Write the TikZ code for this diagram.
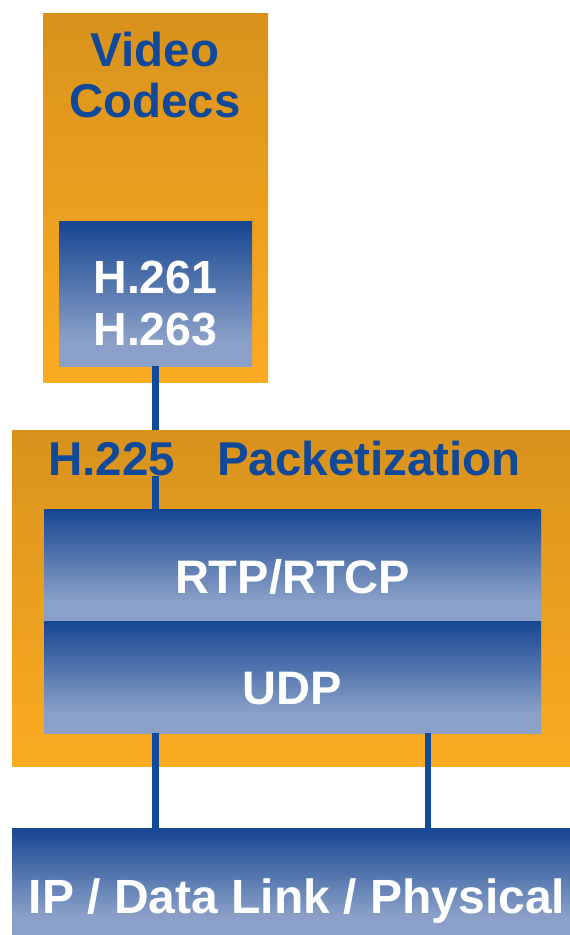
\documentclass[tikz,border=0pt]{standalone}
\usepackage{fontspec}
\setmainfont{Liberation Sans}
\definecolor{ambertop}{RGB}{216,146,28}
\definecolor{amberbot}{RGB}{251,171,33}
\definecolor{navytop}{RGB}{22,70,145}
\definecolor{navybot}{RGB}{138,160,200}
\definecolor{titleblue}{RGB}{16,72,154}
\definecolor{linkblue}{RGB}{16,74,155}
% blue layer fill: dark at the top, flat light band at the bottom
\pgfdeclareverticalshading{layerfade}{100bp}{%
  color(0bp)=(navybot); color(25bp)=(navybot); color(34bp)=(navybot);
  color(75bp)=(navytop); color(100bp)=(navytop)}
\begin{document}
\begin{tikzpicture}[x=1pt,y=-1pt,
  stackbox/.style={rectangle,inner sep=0pt,outer sep=0pt,anchor=north west,draw=none},
  orangebg/.style={stackbox,top color=ambertop,bottom color=amberbot},
  bluebg/.style={stackbox,shading=layerfade},
  titletext/.style={font=\bfseries\fontsize{47.5}{50}\selectfont,text=titleblue,anchor=base,inner sep=0pt},
  headtext/.style={font=\bfseries\fontsize{47.5}{50}\selectfont,text=titleblue,anchor=base west,inner sep=0pt},
  layertext/.style={font=\bfseries\fontsize{47}{50}\selectfont,text=white,anchor=base,inner sep=0pt},
  link/.style={draw=linkblue,line width=6.5pt}]
\useasboundingbox (0,0) rectangle (570,935);

% codec column
\node[orangebg,minimum width=225pt,minimum height=369pt] (codecs) at (43,13) {};
\node[bluebg,minimum width=193pt,minimum height=145pt] (h26x) at (59,221) {};

% packetization layer
\node[orangebg,minimum width=558pt,minimum height=336pt] (pack) at (12,430) {};
\node[bluebg,minimum width=497pt,minimum height=112pt] (rtp) at (44,509) {};
\node[bluebg,minimum width=497pt,minimum height=112pt] (udp) at (44,621) {};

% network layer
\node[bluebg,minimum width=558pt,minimum height=107pt] (ip) at (12,828) {};

% headings
\node[titletext] (video) at (155,66) {Video};
\node[titletext] (codec) at (155,117) {Codecs};
\node[headtext] (h225) at (48,475) {H.225};
\node[headtext] (packet) at (217,475) {Packetization};

% connectors
\coordinate (rtap) at (428,0);
\draw[link] (h26x.south) -- (h26x.south |- pack.north);
\draw[link] (h26x.south |- h225.south) -- (h26x.south |- rtp.north);
\draw[link] (h26x.south |- udp.south) -- (h26x.south |- ip.north);
\draw[link] (rtap |- udp.south) -- (rtap |- ip.north);

% layer labels
\node[layertext,font=\bfseries\fontsize{46.5}{50}\selectfont] (h261) at (155.5,293) {H.261};
\node[layertext,font=\bfseries\fontsize{46.5}{50}\selectfont] (h263) at (155.5,345) {H.263};
\node[layertext] (rtptext) at (292.5,593) {RTP/RTCP};
\node[layertext] (udptext) at (292.5,704) {UDP};
\node[layertext,font=\bfseries\fontsize{48}{50}\selectfont] (iptext) at (297,913) {IP / Data Link / Physical};
\end{tikzpicture}
\end{document}
